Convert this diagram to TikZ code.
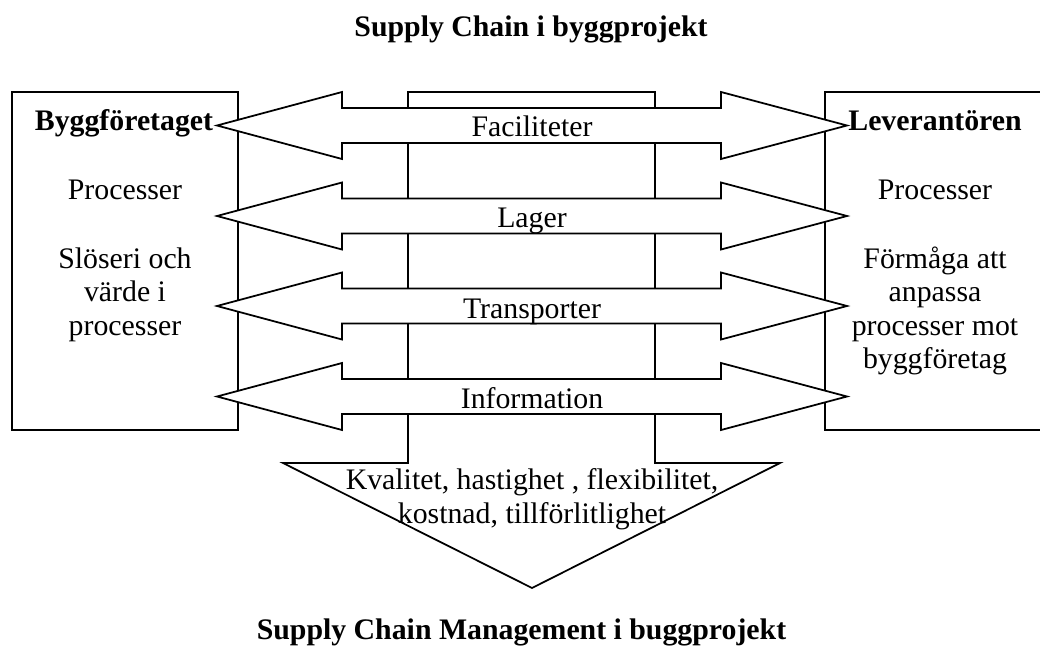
\documentclass[tikz,border=0pt]{standalone}
\usepackage{fontspec}
\setmainfont{Liberation Serif}
\usetikzlibrary{positioning}
\tikzset{
    % Frame and arrow styles
    partbox/.style={
        rectangle, draw=black, fill=white, line width=0.5pt,
        inner sep=0pt
    },
    blockarrow/.style={
        draw=black, fill=white, line width=0.5pt, line join=miter
    },
    % Text styles
    lbl/.style={
        font=\fontsize{8.48}{9.53}\selectfont, inner sep=0pt, align=center
    },
    hdr/.style={
        font=\fontsize{8.48}{9.53}\selectfont\bfseries, inner sep=0pt
    }
}
\begin{document}
\begin{tikzpicture}
\useasboundingbox (0,0) rectangle (10.40,6.52);

% Titles
\node[hdr, anchor=base] (title) at (5.31,6.15) {Supply Chain i byggprojekt};
\node[hdr, anchor=base] (subtitle) at (5.215,0.13) {Supply Chain Management i buggprojekt};

% Company frames
\node[partbox, minimum width=2.26cm, minimum height=3.38cm] (bygg) at (1.25,3.91) {};
\node[partbox, minimum width=2.30cm, minimum height=3.38cm] (lev) at (9.40,3.91) {};

% Downward arrow
\draw[blockarrow] (4.08,5.60) -- (6.55,5.60) -- (6.55,1.89) -- (7.80,1.89)
    -- (5.32,0.64) -- (2.83,1.89) -- (4.08,1.89) -- cycle;

% Flows between the parties
\draw[blockarrow] (2.17,5.265) -- ++(1.25,0.335) -- ++(0,-0.16) -- ++(3.79,0) -- ++(0,0.16)
    -- ++(1.26,-0.335) -- ++(-1.26,-0.335) -- ++(0,0.16) -- ++(-3.79,0) -- ++(0,-0.16) -- cycle;
\draw[blockarrow] (2.17,4.36) -- ++(1.25,0.335) -- ++(0,-0.16) -- ++(3.79,0) -- ++(0,0.16)
    -- ++(1.26,-0.335) -- ++(-1.26,-0.335) -- ++(0,0.16) -- ++(-3.79,0) -- ++(0,-0.16) -- cycle;
\draw[blockarrow] (2.17,3.46) -- ++(1.25,0.335) -- ++(0,-0.16) -- ++(3.79,0) -- ++(0,0.16)
    -- ++(1.26,-0.335) -- ++(-1.26,-0.335) -- ++(0,0.16) -- ++(-3.79,0) -- ++(0,-0.16) -- cycle;
\draw[blockarrow] (2.17,2.555) -- ++(1.25,0.335) -- ++(0,-0.16) -- ++(3.79,0) -- ++(0,0.16)
    -- ++(1.26,-0.335) -- ++(-1.26,-0.335) -- ++(0,0.16) -- ++(-3.79,0) -- ++(0,-0.16) -- cycle;

\node[lbl, anchor=base] (fac) at (5.32,5.15) {Faciliteter};
\node[lbl, anchor=base] (lager) at (5.32,4.25) {Lager};
\node[lbl, anchor=base] (transp) at (5.32,3.34) {Transporter};
\node[lbl, anchor=base] (info) at (5.32,2.44) {Information};

% Frame contents
\node[hdr, anchor=base] (byggname) at (1.24,5.22) {Byggföretaget};
\node[lbl, anchor=base] (byggproc) at (1.25,4.52) {Processer};
\node[lbl, anchor=base] (byggwaste) at (1.25,3.17) {Slöseri och\\värde i\\processer};

\node[hdr, anchor=base] (levname) at (9.35,5.22) {Leverantören};
\node[lbl, anchor=base] (levproc) at (9.35,4.52) {Processer};
\node[lbl, anchor=base] (levadapt) at (9.35,2.835) {Förmåga att\\anpassa\\processer mot\\byggföretag};

% Performance goals
\node[lbl, anchor=base] (goals) at (5.32,1.29) {Kvalitet, hastighet , flexibilitet,\\kostnad, tillförlitlighet};

\end{tikzpicture}
\end{document}
